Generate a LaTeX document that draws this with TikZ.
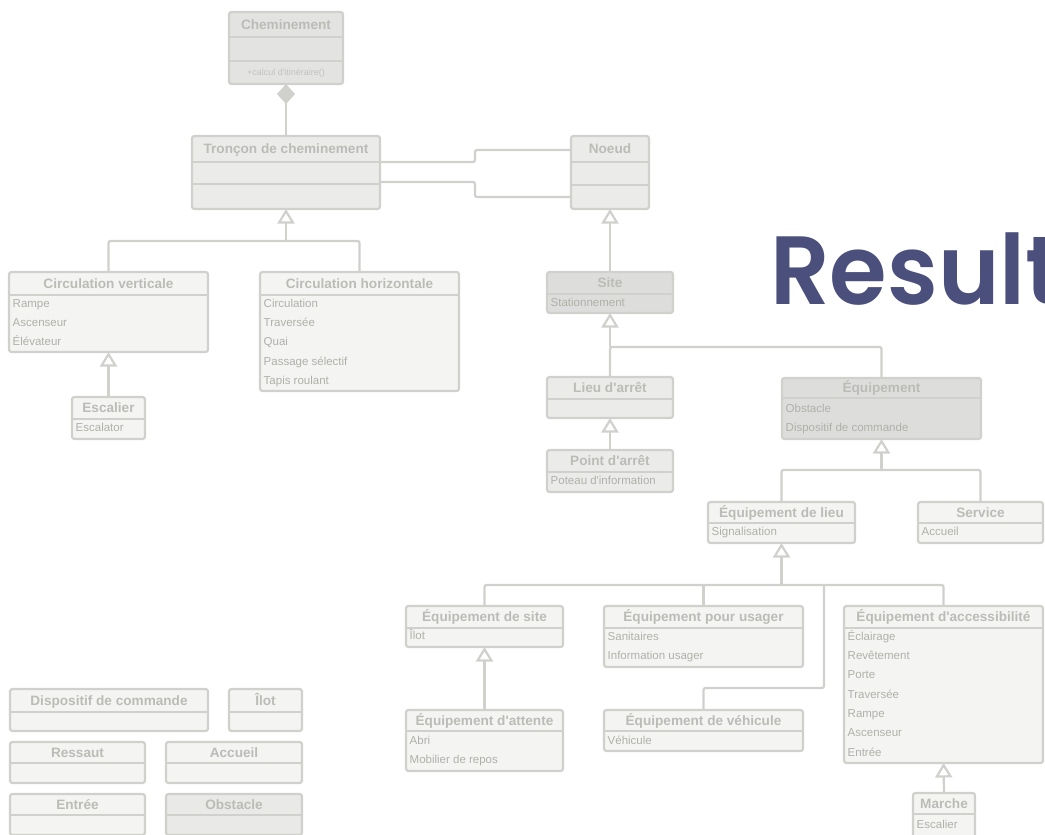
\documentclass[tikz,border=0pt]{standalone}
\usepackage{fontspec}
\newfontfamily\lsans{Liberation Sans}
\newfontfamily\resfont{Poppins SemiBold}[FakeStretch=0.96]
\usetikzlibrary{arrows.meta}

\definecolor{bd}{HTML}{D0D0CC}
\definecolor{flight}{HTML}{F4F4F2}
\definecolor{fmid}{HTML}{EBEBE9}
\definecolor{fdark}{HTML}{DDDDDB}
\definecolor{fchem}{HTML}{E3E3E1}
\definecolor{fobst}{HTML}{E9E9E7}
\definecolor{ttlc}{HTML}{BBBBB7}
\definecolor{itmc}{HTML}{B0B0AB}
\definecolor{mthc}{HTML}{C2C2BE}
\definecolor{resc}{HTML}{4A4F7C}

\tikzset{
  cls/.style={draw=bd, line width=2.2pt, rounded corners=2.5pt, inner sep=0pt, outer sep=0pt, anchor=north west},
  sep/.style={draw=bd, line width=2.2pt},
  ttl/.style={font=\lsans\bfseries\fontsize{13.6}{15}\selectfont, text=ttlc, inner sep=0pt, text height=9.7pt, text depth=0pt},
  itm/.style={font=\lsans\fontsize{11.5}{13}\selectfont, text=itmc, inner sep=0pt, anchor=west, text height=8.2pt, text depth=0pt},
  link/.style={draw=bd, line width=2.2pt, rounded corners=2pt},
  inh/.style={draw=bd, line width=2.2pt, -{Triangle[open, length=14.5pt, width=17pt, fill=white]}},
}

% class box: name, x, y, width, height, header height, fill, title
\newcommand\umlcls[8]{%
  \node[cls, fill=#7, minimum width=#4pt, minimum height=#5pt] (#1) at (#2,#3) {};
  \draw[sep] ([yshift=-#6pt]#1.north west) -- ([yshift=-#6pt]#1.north east);
  \node[ttl] (#1-t) at ([yshift=-#6pt/2]#1.north) {#8};
}
% attribute lines: name, offset of the first line, list
\newcommand\umlitems[3]{%
  \foreach \itemtext [count=\i from 0] in {#3}
    \node[itm] (#1-\i) at ([xshift=3.5pt,yshift={-(#2+19.35*\i)*1pt}]#1.north west) {\itemtext};
}

\begin{document}
\begin{tikzpicture}[x=1pt,y=-1pt]
\useasboundingbox (0,0) rectangle (1045,835);
\clip (0,0) rectangle (1045,835);

% top of the hierarchy
\umlcls{cm}{229}{12}{114}{72}{25}{fchem}{Cheminement}
\draw[sep] ([yshift=-49pt]cm.north west) -- ([yshift=-49pt]cm.north east);
\node[font=\lsans\fontsize{9}{10}\selectfont, text=mthc, inner sep=0pt, text height=6.5pt, text depth=0pt] (cm-op) at ([yshift=-60pt]cm.north) {+calcul d'itinéraire()};

\umlcls{tr}{192}{136}{188}{73}{26}{fmid}{Tronçon de cheminement}
\draw[sep] ([yshift=-48pt]tr.north west) -- ([yshift=-48pt]tr.north east);
\umlcls{no}{571}{136}{78}{73}{26}{fmid}{Noeud}
\draw[sep] ([yshift=-49pt]no.north west) -- ([yshift=-49pt]no.north east);

% circulation
\umlcls{cv}{9}{272}{199}{80}{23}{flight}{Circulation verticale}
\umlitems{cv}{31}{Rampe,Ascenseur,Élévateur}
\umlcls{ch}{260}{272}{199}{119}{23}{flight}{Circulation horizontale}
\umlitems{ch}{31}{Circulation,Traversée,Quai,Passage sélectif,Tapis roulant}
\umlcls{esc}{72}{397}{73}{42}{22}{flight}{Escalier}
\umlitems{esc}{30}{Escalator}

% sites and stops
\umlcls{si}{547}{272}{126}{41}{22}{fdark}{Site}
\umlitems{si}{30}{Stationnement}
\umlcls{la}{547}{377}{126}{41}{22}{fmid}{Lieu d'arrêt}
\umlcls{pa}{547}{450}{126}{42}{22}{fmid}{Point d'arrêt}
\umlitems{pa}{30}{Poteau d'information}

% equipment
\umlcls{eq}{782}{378}{199}{61}{20}{fdark}{Équipement}
\umlitems{eq}{30}{Obstacle,Dispositif de commande}
\umlcls{el}{708}{502}{147}{41}{21}{flight}{Équipement de lieu}
\umlitems{el}{29}{Signalisation}
\umlcls{sv}{918}{502}{125}{41}{21}{flight}{Service}
\umlitems{sv}{29}{Accueil}
\umlcls{es}{406}{606}{157}{41}{22}{flight}{Équipement de site}
\umlitems{es}{29}{Îlot}
\umlcls{eu}{604}{606}{199}{61}{22}{flight}{Équipement pour usager}
\umlitems{eu}{30}{Sanitaires,Information usager}
\umlcls{ea}{844}{606}{199}{157}{22}{flight}{Équipement d'accessibilité}
\umlitems{ea}{30}{Éclairage,Revêtement,Porte,Traversée,Rampe,Ascenseur,Entrée}
\umlcls{ed}{406}{710}{157}{61}{21}{flight}{Équipement d'attente}
\umlitems{ed}{30}{Abri,Mobilier de repos}
\umlcls{ev}{604}{710}{199}{41}{21}{flight}{Équipement de véhicule}
\umlitems{ev}{30}{Véhicule}
\umlcls{ma}{913}{793}{62}{50}{21}{flight}{Marche}
\umlitems{ma}{31}{Escalier}

% standalone classes
\umlcls{dc}{10}{689}{198}{42}{23}{flight}{Dispositif de commande}
\umlcls{il}{229}{689}{73}{42}{23}{flight}{Îlot}
\umlcls{rs}{10}{742}{135}{41}{21}{flight}{Ressaut}
\umlcls{ac}{166}{742}{136}{41}{21}{flight}{Accueil}
\umlcls{en}{10}{794}{135}{41}{21}{flight}{Entrée}
\umlcls{ob}{166}{794}{136}{41}{21}{fobst}{Obstacle}

% composition and associations
\draw[draw=bd, line width=2.2pt, {Diamond[length=20pt, width=18pt, fill=bd]}-] (cm.south) -- (tr.north);
\draw[link] ([yshift=10.5pt]tr.east) -- ++(95,0) |- ([yshift=22.5pt]no.west);
\draw[link] ([yshift=-9.5pt]tr.east) -- ++(95,0) |- ([yshift=-24.5pt]no.west);

% generalisations
\coordinate (j1) at (286,241);
\draw[inh] (j1) -- (tr.south);
\draw[link] (cv.north) |- (j1) -| (ch.north);
\draw[inh] (esc.north) -- (cv.south);

\draw[inh] (si.north) -- (no.south);
\coordinate (j3) at (610,347);
\draw[inh] (j3) -- (si.south);
\draw[link] (la.north) -- (j3) -| (eq.north);
\draw[inh] (pa.north) -- (la.south);

\coordinate (j4) at (881.5,470);
\draw[inh] (j4) -- (eq.south);
\draw[link] (el.north) |- (j4) -| (sv.north);

\coordinate (j5) at (781.5,585);
\draw[inh] (j5) -- (el.south);
\draw[link] (es.north) |- (j5) -| (ea.north);
\draw[link] (eu.north) -- (eu.north |- j5);
\coordinate (j6) at (824,585);
\coordinate (k6) at (824,688);
\draw[link] (ev.north) |- (k6) -- (j6);
\draw[inh] (ed.north) -- (es.south);
\draw[inh] (ma.north) -- (ea.south);

% heading
\node[font=\resfont\fontsize{97}{100}\selectfont, text=resc, anchor=base west, inner sep=0pt] (res) at (770,304) {Result};
\end{tikzpicture}
\end{document}
